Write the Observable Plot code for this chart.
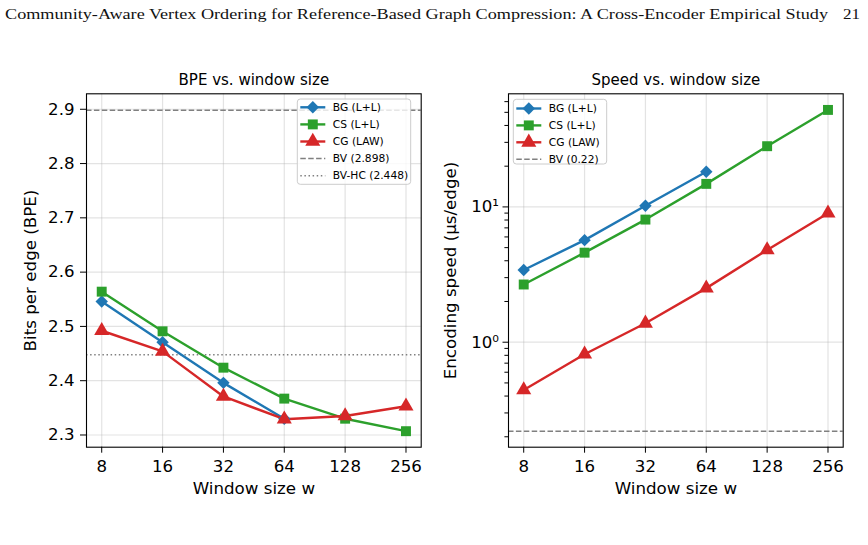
<!DOCTYPE html>
<html>
<head>
<meta charset="utf-8">
<script src="https://cdn.jsdelivr.net/npm/d3@7"></script>
<script src="https://cdn.jsdelivr.net/npm/@observablehq/plot@0.6"></script>
<style>
  body { margin: 0; background: #fff; }
  #fig { position: relative; width: 868px; height: 545px; overflow: hidden; background: #fff;
         font-family: "DejaVu Sans", sans-serif; }
  #fig > svg, #fig > figure { position: absolute; top: 0; margin: 0; }
</style>
</head>
<body>
<div id="fig"></div>
<script>
// Window sizes (x axis, log2)
const windows = [8, 16, 32, 64, 128, 256];

// Bits per edge by window size
const bgBpe = [2.546, 2.471, 2.396, 2.330];
const csBpe = [2.564, 2.491, 2.424, 2.367, 2.330, 2.307];
const cgBpe = [2.492, 2.454, 2.371, 2.329, 2.335, 2.353];
const bvBpe = 2.898;
const bvhcBpe = 2.448;

// Encoding speed (µs/edge) by window size
const bgSpeed = [3.42, 5.68, 10.2, 18.2];
const csSpeed = [2.67, 4.59, 8.06, 14.8, 28.1, 52.1];
const cgSpeed = [0.444, 0.815, 1.38, 2.51, 4.81, 8.98];
const bvSpeed = 0.22;

const seriesNames = ["BG (L+L)", "CS (L+L)", "CG (LAW)"];
const seriesColors = ["#1f77b4", "#2ca02c", "#d62728"];
const seriesSymbols = ["diamond2", "square", "triangle"];

const bpeTicks = [2.3, 2.4, 2.5, 2.6, 2.7, 2.8, 2.9];
const speedMajor = [1, 10];
const speedMajorLabels = ["10\u2070", "10\u00b9"];
const speedMinor = [0.2, 0.3, 0.4, 0.5, 0.6, 0.7, 0.8, 0.9, 2, 3, 4, 5, 6, 7, 8, 9, 20, 30, 40, 50, 60];

function rows(seriesValues) {
  const out = [];
  seriesValues.forEach((vals, i) => vals.forEach((v, j) => out.push({w: windows[j], v, s: seriesNames[i]})));
  return out;
}
const bpeRows = rows([bgBpe, csBpe, cgBpe]);
const speedRows = rows([bgSpeed, csSpeed, cgSpeed]);

const FONT = "DejaVu Sans";
const TICK_FS = 16.6;
const gridStyle = {stroke: "#b0b0b0", strokeOpacity: 0.35, strokeWidth: 1.2};
const dashed = "5.5,2.4";
const dotted = "1.5,2.6";
const markR = 5.6;

const fig = document.getElementById("fig");

// Left panel: BPE vs window size
const left = Plot.plot({
  width: 434, height: 545,
  marginLeft: 86, marginRight: 13.3, marginTop: 93.3, marginBottom: 98.3,
  style: {fontFamily: FONT, fontSize: TICK_FS + "px", background: "transparent", overflow: "visible", color: "#000"},
  x: {type: "log", base: 2, domain: [2 ** 2.75, 2 ** 8.25]},
  y: {domain: [2.2775, 2.9285]},
  color: {domain: seriesNames, range: seriesColors},
  symbol: {domain: seriesNames, range: seriesSymbols},
  marks: [
    Plot.gridX({ticks: windows, ...gridStyle}),
    Plot.gridY({ticks: bpeTicks, ...gridStyle}),
    Plot.ruleY([bvBpe], {stroke: "#808080", strokeWidth: 1.5, strokeDasharray: dashed}),
    Plot.ruleY([bvhcBpe], {stroke: "#808080", strokeWidth: 1.5, strokeDasharray: dotted}),
    Plot.line(bpeRows, {x: "w", y: "v", z: "s", stroke: "s", strokeWidth: 2.4}),
    Plot.dot(bpeRows, {x: "w", y: "v", fill: "s", symbol: "s", r: markR}),
    Plot.frame({stroke: "#000", strokeWidth: 1.1}),
    Plot.axisX({ticks: windows, tickFormat: d => String(d), tickSize: 6, tickPadding: 7, label: null, fontSize: TICK_FS}),
    Plot.axisY({ticks: bpeTicks, tickFormat: d => d.toFixed(1), tickSize: 6, tickPadding: 6, label: null, fontSize: TICK_FS}),
    Plot.text(["BPE vs. window size"], {text: d => d, frameAnchor: "top", lineAnchor: "bottom", dy: -9.3, fontSize: 15}),
    Plot.text(["Window size w"], {text: d => d, frameAnchor: "bottom", lineAnchor: "bottom", dy: 46.6, fontSize: 16.7}),
    Plot.text(["Bits per edge (BPE)"], {text: d => d, frameAnchor: "left", textAnchor: "middle", rotate: -90, lineAnchor: "middle", dx: -56, fontSize: 16.7})
  ]
});
left.style.left = "0px";
fig.appendChild(left);

// Right panel: encoding speed vs window size
const right = Plot.plot({
  width: 434, height: 545,
  marginLeft: 74, marginRight: 25.3, marginTop: 93.3, marginBottom: 98.3,
  style: {fontFamily: FONT, fontSize: TICK_FS + "px", background: "transparent", overflow: "visible", color: "#000"},
  x: {type: "log", base: 2, domain: [2 ** 2.75, 2 ** 8.25]},
  y: {type: "log", domain: [10 ** -0.776, 10 ** 1.836]},
  color: {domain: seriesNames, range: seriesColors},
  symbol: {domain: seriesNames, range: seriesSymbols},
  marks: [
    Plot.gridX({ticks: windows, ...gridStyle}),
    Plot.gridY({ticks: speedMajor, ...gridStyle}),
    Plot.ruleY([bvSpeed], {stroke: "#808080", strokeWidth: 1.5, strokeDasharray: dashed}),
    Plot.line(speedRows, {x: "w", y: "v", z: "s", stroke: "s", strokeWidth: 2.4}),
    Plot.dot(speedRows, {x: "w", y: "v", fill: "s", symbol: "s", r: markR}),
    Plot.frame({stroke: "#000", strokeWidth: 1.1}),
    Plot.axisX({ticks: windows, tickFormat: d => String(d), tickSize: 6, tickPadding: 7, label: null, fontSize: TICK_FS}),
    Plot.axisY({ticks: speedMinor, tickFormat: () => "", tickSize: 3.6, tickPadding: 0, label: null}),
    Plot.axisY({ticks: speedMajor, tickFormat: d => speedMajorLabels[speedMajor.indexOf(d)], tickSize: 5.5, tickPadding: 4, label: null, fontSize: TICK_FS}),
    Plot.text(["Speed vs. window size"], {text: d => d, frameAnchor: "top", lineAnchor: "bottom", dy: -9.3, fontSize: 15}),
    Plot.text(["Window size w"], {text: d => d, frameAnchor: "bottom", lineAnchor: "bottom", dy: 46.6, fontSize: 16.7}),
    Plot.text(["Encoding speed (\u00b5s/edge)"], {text: d => d, frameAnchor: "left", textAnchor: "middle", rotate: -90, lineAnchor: "middle", dx: -58.3, fontSize: 16.7})
  ]
});
right.style.left = "434px";
fig.appendChild(right);

// Running header and in-axes legends
const overlay = d3.create("svg")
  .attr("width", 868).attr("height", 545)
  .style("position", "absolute").style("left", "0px").style("top", "0px")
  .style("pointer-events", "none");

overlay.append("text")
  .attr("x", 5).attr("y", 19)
  .attr("textLength", 823).attr("lengthAdjust", "spacingAndGlyphs")
  .style("font-family", "'Liberation Serif', serif").style("font-size", "15.5px").attr("fill", "#111")
  .text("Community-Aware Vertex Ordering for Reference-Based Graph Compression: A Cross-Encoder Empirical Study");
overlay.append("text")
  .attr("x", 843).attr("y", 19)
  .attr("textLength", 17).attr("lengthAdjust", "spacingAndGlyphs")
  .style("font-family", "'Liberation Serif', serif").style("font-size", "15.5px").attr("fill", "#111")
  .text("21");

const symbolTypes = {diamond2: d3.symbolDiamond2, square: d3.symbolSquare, triangle: d3.symbolTriangle};

function legend(x, y, w, h, firstRow, rowStep, items) {
  const g = overlay.append("g");
  g.append("rect").attr("x", x).attr("y", y).attr("width", w).attr("height", h)
    .attr("rx", 3).attr("fill", "#fff").attr("fill-opacity", 0.8)
    .attr("stroke", "#cccccc").attr("stroke-width", 1);
  items.forEach((it, i) => {
    const cy = firstRow + i * rowStep;
    const x0 = x + 3, x1 = x + 28;
    g.append("line").attr("x1", x0).attr("x2", x1).attr("y1", cy).attr("y2", cy)
      .attr("stroke", it.color).attr("stroke-width", it.symbol ? 2.4 : 1.5)
      .attr("stroke-dasharray", it.dash || null);
    if (it.symbol) {
      g.append("path").attr("transform", `translate(${(x0 + x1) / 2},${cy})`)
        .attr("d", d3.symbol(symbolTypes[it.symbol], Math.PI * markR * markR)())
        .attr("fill", it.color);
    }
    g.append("text").attr("x", x + 35.5).attr("y", cy).attr("dy", "0.35em")
      .style("font-family", FONT).style("font-size", "10.7px").attr("fill", "#000")
      .text(it.label);
  });
}

const seriesItems = seriesNames.map((s, i) => ({label: s, color: seriesColors[i], symbol: seriesSymbols[i]}));
legend(297.3, 99, 113.4, 85.3, 107.3, 17.1, [
  ...seriesItems,
  {label: `BV (${bvBpe.toFixed(3)})`, color: "#808080", dash: dashed},
  {label: `BV-HC (${bvhcBpe.toFixed(3)})`, color: "#808080", dash: dotted}
]);
legend(513.3, 99.3, 93.4, 64.7, 108.5, 16.9, [
  ...seriesItems,
  {label: `BV (${bvSpeed.toFixed(2)})`, color: "#808080", dash: dashed}
]);

fig.appendChild(overlay.node());
</script>
</body>
</html>
